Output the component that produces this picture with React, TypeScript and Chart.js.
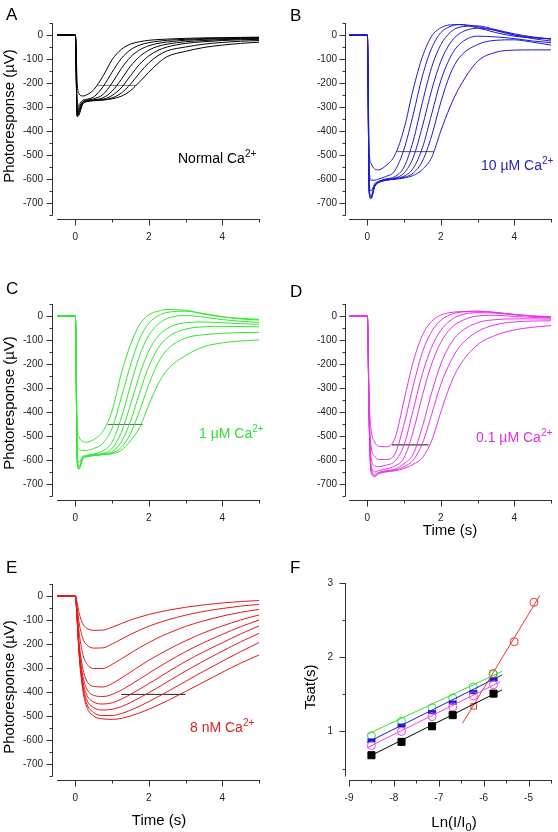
import React, { useEffect, useRef } from 'react';
import { Chart, registerables } from 'chart.js';

Chart.register(...registerables);

const FONT = '"Liberation Sans", Arial, Helvetica, sans-serif';

// ---------- shared axes ----------
const timeS = [-0.5, 0, 0.05, 0.1, 0.2, 0.3, 0.5, 0.75, 1, 1.25, 1.5, 1.75, 2, 2.25, 2.5, 3, 3.5, 4, 4.5, 5];
const timeTicks = [0, 2, 4];
const timeMinorTicks = [1, 3, 5];
const responseTicks = [0, -100, -200, -300, -400, -500, -600, -700];
const responseMinorTicks = [50, -50, -150, -250, -350, -450, -550, -650, -750];

// ---------- A: Normal Ca2+ (µV at timeS) ----------
const normalCaTraces = [
  [0, 0, -200, -245, -254, -250, -228, -172, -103, -60, -38, -28, -22, -19, -17, -14, -12, -11, -10, -9],
  [0, 0, -300, -290, -272, -268, -258, -216, -155, -98, -62, -42, -32, -26, -22, -18, -15, -13, -12, -11],
  [0, 0, -320, -300, -278, -272, -266, -248, -200, -140, -92, -62, -45, -35, -29, -22, -18, -16, -14, -13],
  [0, 0, -330, -310, -280, -274, -270, -262, -234, -185, -130, -90, -63, -47, -38, -28, -23, -19, -17, -15],
  [0, 0, -335, -318, -283, -276, -272, -268, -252, -220, -170, -122, -87, -64, -50, -35, -28, -23, -20, -18],
  [0, 0, -338, -325, -285, -277, -273, -270, -262, -242, -205, -158, -116, -86, -66, -50, -38, -31, -26, -23],
  [0, 0, -340, -333, -288, -278, -274, -271, -266, -255, -232, -195, -155, -118, -90, -68, -52, -42, -35, -30],
];
const normalCaTsatX = [0.61, 1.66];
const normalCaTsatLevel = -210;

// ---------- B: 10 µM Ca2+ ----------
const ca10uMTraces = [
  [0, 0, -480, -535, -558, -562, -545, -500, -390, -225, -90, -5, 30, 42, 43, 30, 10, -5, -12, -15],
  [0, 0, -560, -605, -605, -600, -590, -565, -475, -330, -170, -55, 10, 35, 44, 35, 18, 0, -10, -16],
  [0, 0, -620, -650, -620, -610, -600, -590, -550, -440, -280, -135, -40, 10, 32, 38, 22, 5, -8, -18],
  [0, 0, -640, -670, -625, -612, -602, -596, -575, -510, -380, -230, -110, -35, 5, 28, 20, 0, -15, -25],
  [0, 0, -650, -678, -628, -614, -604, -598, -588, -555, -470, -330, -190, -95, -40, -5, -8, -15, -25, -32],
  [0, 0, -655, -680, -630, -615, -605, -600, -593, -575, -525, -420, -280, -165, -95, -40, -22, -20, -30, -42],
  [0, 0, -660, -682, -632, -616, -606, -601, -596, -585, -560, -510, -400, -300, -220, -110, -72, -63, -62, -62],
];
const ca10uMTsatX = [0.81, 1.81];
const ca10uMTsatLevel = -486;

// ---------- C: 1 µM Ca2+ ----------
const ca1uMTraces = [
  [0, 0, -450, -505, -522, -526, -515, -480, -395, -240, -120, -35, 5, 20, 27, 24, 8, -4, -10, -14],
  [0, 0, -520, -555, -560, -560, -552, -530, -468, -340, -205, -95, -30, 0, 15, 20, 10, -3, -12, -17],
  [0, 0, -570, -610, -585, -580, -575, -562, -525, -425, -290, -165, -80, -35, -10, 2, -5, -15, -22, -27],
  [0, 0, -590, -625, -590, -583, -578, -572, -552, -485, -370, -245, -145, -85, -52, -28, -25, -28, -32, -35],
  [0, 0, -600, -632, -592, -585, -580, -575, -565, -525, -440, -320, -210, -135, -90, -55, -45, -43, -44, -45],
  [0, 0, -605, -636, -594, -586, -581, -577, -571, -548, -490, -395, -285, -195, -140, -92, -78, -72, -69, -68],
  [0, 0, -608, -638, -596, -587, -582, -578, -574, -560, -520, -465, -370, -285, -225, -165, -128, -112, -104, -100],
];
const ca1uMTsatX = [0.88, 1.84];
const ca1uMTsatLevel = -452;

// ---------- D: 0.1 µM Ca2+ ----------
const ca01uMTraces = [
  [0, 0, -350, -470, -525, -542, -545, -510, -350, -190, -80, -22, 4, 14, 18, 20, 14, 6, 0, -4],
  [0, 0, -400, -540, -585, -598, -598, -575, -450, -290, -150, -65, -18, 5, 15, 20, 15, 7, 0, -4],
  [0, 0, -430, -590, -625, -628, -622, -605, -537, -390, -240, -130, -60, -20, 2, 14, 12, 5, -1, -5],
  [0, 0, -440, -620, -650, -645, -638, -625, -590, -480, -330, -200, -110, -55, -25, 0, 3, -2, -6, -8],
  [0, 0, -445, -635, -660, -652, -645, -638, -615, -575, -460, -320, -200, -120, -72, -28, -15, -12, -12, -13],
  [0, 0, -448, -645, -665, -655, -648, -642, -628, -600, -530, -410, -285, -195, -130, -65, -36, -25, -21, -20],
  [0, 0, -450, -650, -670, -658, -650, -645, -635, -618, -590, -520, -400, -290, -210, -120, -80, -58, -47, -40],
];
const ca01uMTsatX = [0.67, 1.67];
const ca01uMTsatLevel = -537;

// ---------- E: 8 nM Ca2+ ----------
const ca8nMTraces = [
  [0, 0, -30, -70, -115, -133, -143, -142, -130, -115, -100, -88, -77, -68, -60, -47, -37, -29, -23, -19],
  [0, 0, -50, -110, -175, -202, -217, -216, -200, -180, -160, -142, -126, -112, -100, -80, -64, -52, -42, -35],
  [0, 0, -70, -150, -240, -280, -302, -302, -285, -262, -238, -215, -194, -174, -157, -127, -103, -84, -68, -56],
  [0, 0, -85, -190, -300, -350, -377, -379, -365, -342, -317, -292, -268, -246, -225, -187, -153, -125, -100, -79],
  [0, 0, -92, -210, -330, -383, -414, -419, -410, -392, -370, -346, -322, -298, -275, -232, -194, -160, -128, -100],
  [0, 0, -96, -220, -350, -408, -442, -450, -445, -430, -410, -388, -365, -342, -318, -273, -232, -195, -158, -125],
  [0, 0, -100, -228, -365, -428, -465, -475, -472, -461, -444, -424, -403, -381, -358, -313, -270, -230, -191, -156],
  [0, 0, -103, -235, -378, -445, -486, -498, -498, -490, -476, -459, -440, -420, -399, -356, -313, -272, -232, -194],
  [0, 0, -105, -240, -388, -458, -500, -512, -514, -510, -500, -487, -472, -455, -437, -398, -358, -318, -280, -246],
];
const ca8nMTsatX = [1.25, 3.0];
const ca8nMTsatLevel = -410;

// ---------- F: Tsat vs Ln(I/I0) ----------
const lnTicks = [-9, -8, -7, -6, -5];
const lnMinorTicks = [-8.5, -7.5, -6.5, -5.5, -4.5];
const tsatTicks = [1, 2, 3];
const tsatMinorTicks = [0.5, 1.5, 2.5];

const normalLn = [-8.5, -7.83, -7.15, -6.69, -5.78];
const normalTsat = [0.68, 0.86, 1.07, 1.22, 1.51];
const normalFitLn = [-8.56, -5.59];
const normalFitTsat = [0.66, 1.56];

const sixLn = [-8.5, -7.83, -7.15, -6.69, -6.23, -5.78];
const ca1uMTsat = [0.94, 1.14, 1.32, 1.45, 1.6, 1.77];
const ca1uMFitLn = [-8.6, -5.59];
const ca1uMFitTsat = [0.96, 1.81];
const ca10uMTsat = [0.88, 1.08, 1.26, 1.39, 1.53, 1.7];
const ca10uMFitLn = [-8.6, -5.59];
const ca10uMFitTsat = [0.85, 1.76];
const ca01uMTsat = [0.81, 1.0, 1.2, 1.33, 1.48, 1.63];
const ca01uMFitLn = [-8.6, -5.63];
const ca01uMFitTsat = [0.78, 1.67];

const ca8nMLn = [-6.22, -5.79, -5.32, -4.88];
const ca8nMTsat = [1.34, 1.78, 2.21, 2.74];
const ca8nMFitLn = [-6.47, -4.75];
const ca8nMFitTsat = [1.11, 2.83];

// ---------- layout boxes ----------
type Box = { cx: number; cy: number; w: number; h: number; L: number; T: number; R: number; B: number; yGap: number; yPad: number };
const boxA: Box = { cx: 0, cy: 0, w: 279, h: 280, L: 57, T: 23, R: 259, B: 215, yGap: 5, yPad: 14 };
const boxB: Box = { cx: 279, cy: 0, w: 279, h: 280, L: 349, T: 23, R: 551, B: 215, yGap: 4.5, yPad: 12 };
const boxC: Box = { cx: 0, cy: 280, w: 279, h: 280, L: 57, T: 304, R: 259, B: 496, yGap: 5, yPad: 14 };
const boxD: Box = { cx: 279, cy: 280, w: 279, h: 280, L: 349, T: 304, R: 551, B: 496, yGap: 4.5, yPad: 12 };
const boxE: Box = { cx: 0, cy: 560, w: 279, h: 272, L: 57, T: 584, R: 259, B: 776, yGap: 5, yPad: 14 };
const boxF: Box = { cx: 279, cy: 560, w: 279, h: 272, L: 349, T: 583, R: 551, B: 776, yGap: 4, yPad: 16 };

const AXIS_COLOR = '#333';

const originAxes = {
  id: 'originAxes',
  afterDraw(chart: any, _args: any, opts: any) {
    const { ctx, chartArea } = chart;
    const xs = chart.scales.x;
    const ys = chart.scales.y;
    ctx.save();
    ctx.strokeStyle = AXIS_COLOR;
    ctx.lineWidth = 1;
    const ax = Math.round(chartArea.left - opts.yGap) + 0.5;
    const ay = Math.round(chartArea.bottom + 4) + 0.5;
    ctx.beginPath();
    ctx.moveTo(ax, Math.round(chartArea.top));
    ctx.lineTo(ax, Math.round(chartArea.bottom) + 0.5);
    ctx.moveTo(Math.round(chartArea.left), ay);
    ctx.lineTo(Math.round(chartArea.right) + 1, ay);
    const yT = (vals: number[], len: number) => {
      for (const v of vals) {
        const p = Math.round(ys.getPixelForValue(v)) + 0.5;
        ctx.moveTo(ax, p);
        ctx.lineTo(ax - len, p);
      }
    };
    const xT = (vals: number[], len: number) => {
      for (const v of vals) {
        const p = Math.round(xs.getPixelForValue(v)) + 0.5;
        ctx.moveTo(p, ay);
        ctx.lineTo(p, ay + len);
      }
    };
    yT(opts.yMajor, 6);
    yT(opts.yMinor, 3);
    xT(opts.xMajor, 6);
    xT(opts.xMinor, 3);
    ctx.stroke();
    ctx.restore();
  },
};

type AxSpec = {
  xMin: number; xMax: number; yMin: number; yMax: number;
  xTicks: number[]; xMinor: number[]; yTicks: number[]; yMinor: number[];
};

function baseConfig(datasets: any[], box: Box, ax: AxSpec) {
  const tickFont = { family: FONT, size: 10 };
  return {
    type: 'line',
    data: { datasets },
    plugins: [originAxes],
    options: {
      responsive: false,
      animation: false,
      events: [],
      layout: { padding: { left: 0, top: box.T - box.cy, right: box.cx + box.w - box.R, bottom: 0 } },
      plugins: {
        legend: { display: false },
        tooltip: { enabled: false },
        originAxes: { yGap: box.yGap, xMajor: ax.xTicks, xMinor: ax.xMinor, yMajor: ax.yTicks, yMinor: ax.yMinor },
      },
      scales: {
        x: {
          type: 'linear',
          min: ax.xMin,
          max: ax.xMax,
          grid: { display: false, drawTicks: false },
          border: { display: false },
          ticks: { padding: 16, font: tickFont, color: '#222', autoSkip: false, maxRotation: 0, callback: (v: any) => String(v) },
          afterBuildTicks: (s: any) => { s.ticks = ax.xTicks.map((v) => ({ value: v })); },
          afterFit: (s: any) => { s.height = box.cy + box.h - box.B; },
        },
        y: {
          type: 'linear',
          min: ax.yMin,
          max: ax.yMax,
          grid: { display: false, drawTicks: false },
          border: { display: false },
          ticks: { padding: box.yPad, font: tickFont, color: '#222', autoSkip: false, callback: (v: any) => String(v) },
          afterBuildTicks: (s: any) => { s.ticks = ax.yTicks.map((v) => ({ value: v })); },
          afterFit: (s: any) => { s.width = box.L - box.cx; },
        },
      },
    },
  };
}

function traceConfig(traces: number[][], color: string, tsatX: number[], tsatLevel: number, tsatColor: string, box: Box) {
  const datasets: any[] = traces.map((vals) => ({
    data: timeS.map((t, i) => ({ x: t, y: vals[i] })),
    borderColor: color,
    borderWidth: 1,
    pointRadius: 0,
    cubicInterpolationMode: 'monotone',
    fill: false,
  }));
  datasets.push({
    data: tsatX.map((x) => ({ x, y: tsatLevel })),
    borderColor: tsatColor,
    borderWidth: 1,
    pointRadius: 0,
    fill: false,
  });
  return baseConfig(datasets, box, {
    xMin: -0.5, xMax: 5, yMin: -750, yMax: 50,
    xTicks: timeTicks, xMinor: timeMinorTicks, yTicks: responseTicks, yMinor: responseMinorTicks,
  });
}

function makeBarMarker(color: string) {
  const c = document.createElement('canvas');
  c.width = 10;
  c.height = 6;
  const g = c.getContext('2d')!;
  g.fillStyle = color;
  g.fillRect(1, 1, 8, 4);
  return c;
}

function tsatConfig(box: Box) {
  const pts = (xs: number[], ys: number[]) => xs.map((x, i) => ({ x, y: ys[i] }));
  const fit = (xs: number[], ys: number[], color: string) => ({
    data: pts(xs, ys), borderColor: color, borderWidth: 1, pointRadius: 0, fill: false,
  });
  const marks = (xs: number[], ys: number[], color: string, style: any, radius: number, filled: boolean) => ({
    data: pts(xs, ys),
    showLine: false,
    borderColor: color,
    backgroundColor: filled ? color : 'rgba(0,0,0,0)',
    pointBorderColor: color,
    pointBackgroundColor: filled ? color : 'rgba(0,0,0,0)',
    pointStyle: style,
    pointRadius: radius,
    pointBorderWidth: 1,
  });
  const blue = '#1a1acc';
  const datasets = [
    fit(normalFitLn, normalFitTsat, '#000'),
    fit(ca01uMFitLn, ca01uMFitTsat, '#ee44ee'),
    fit(ca10uMFitLn, ca10uMFitTsat, blue),
    fit(ca1uMFitLn, ca1uMFitTsat, '#33dd33'),
    fit(ca8nMFitLn, ca8nMFitTsat, '#ee3333'),
    marks(normalLn, normalTsat, '#000', 'rect', 5, true),
    marks(sixLn, ca01uMTsat, '#ee44ee', 'circle', 4, false),
    marks(sixLn, ca10uMTsat, blue, makeBarMarker(blue), 4, true),
    marks(sixLn, ca1uMTsat, '#33dd33', 'circle', 4, false),
    marks(ca8nMLn, ca8nMTsat, '#ee3333', ['rect', 'circle', 'circle', 'circle'], 4, false),
  ];
  return baseConfig(datasets, box, {
    xMin: -9, xMax: -4.5, yMin: 0.4, yMax: 3,
    xTicks: lnTicks, xMinor: lnMinorTicks, yTicks: tsatTicks, yMinor: tsatMinorTicks,
  });
}

function ChartCanvas({ box, make }: { box: Box; make: () => any }) {
  const ref = useRef<HTMLCanvasElement | null>(null);
  useEffect(() => {
    if (!ref.current) return;
    const chart = new Chart(ref.current, make());
    return () => chart.destroy();
  }, []);
  return (
    <canvas
      ref={ref}
      width={box.w}
      height={box.h}
      style={{ position: 'absolute', left: box.cx, top: box.cy, width: box.w, height: box.h }}
    />
  );
}

function Txt({ left, baseline, size, color = '#000', children }: any) {
  return (
    <div
      style={{
        position: 'absolute', left, top: baseline - 0.85 * size, fontSize: size, lineHeight: `${size}px`,
        color, whiteSpace: 'nowrap', fontFamily: FONT,
      }}
    >
      {children}
    </div>
  );
}

function VTxt({ cx, cy, size, children }: any) {
  return (
    <div
      style={{
        position: 'absolute', left: cx, top: cy, fontSize: size, lineHeight: `${Math.round(size * 1.2)}px`,
        whiteSpace: 'nowrap', fontFamily: FONT, color: '#000',
        transform: 'translate(-50%, -50%) rotate(-90deg)',
      }}
    >
      {children}
    </div>
  );
}

function CTxt({ cx, cy, size, children }: any) {
  return (
    <div
      style={{
        position: 'absolute', left: cx, top: cy, fontSize: size, lineHeight: `${Math.round(size * 1.2)}px`,
        whiteSpace: 'nowrap', fontFamily: FONT, color: '#000', transform: 'translate(-50%, -50%)',
      }}
    >
      {children}
    </div>
  );
}

const Sup = ({ children }: any) => (
  <span style={{ fontSize: 10, position: 'relative', top: -6, verticalAlign: 'baseline' }}>{children}</span>
);

export default function App() {
  return (
    <div style={{ position: 'absolute', left: 0, top: 0, width: 558, height: 832, background: '#fff', fontFamily: FONT, overflow: 'hidden' }}>
      <ChartCanvas box={boxA} make={() => traceConfig(normalCaTraces, '#000', normalCaTsatX, normalCaTsatLevel, '#777', boxA)} />
      <ChartCanvas box={boxB} make={() => traceConfig(ca10uMTraces, '#1a1ad0', ca10uMTsatX, ca10uMTsatLevel, '#555', boxB)} />
      <ChartCanvas box={boxC} make={() => traceConfig(ca1uMTraces, '#33e633', ca1uMTsatX, ca1uMTsatLevel, '#666', boxC)} />
      <ChartCanvas box={boxD} make={() => traceConfig(ca01uMTraces, '#e633e6', ca01uMTsatX, ca01uMTsatLevel, '#111', boxD)} />
      <ChartCanvas box={boxE} make={() => traceConfig(ca8nMTraces, '#e01b1b', ca8nMTsatX, ca8nMTsatLevel, '#222', boxE)} />
      <ChartCanvas box={boxF} make={() => tsatConfig(boxF)} />

      <Txt left={6} baseline={20} size={17}>A</Txt>
      <Txt left={290} baseline={21} size={17}>B</Txt>
      <Txt left={6} baseline={294} size={17}>C</Txt>
      <Txt left={290} baseline={297} size={17}>D</Txt>
      <Txt left={6} baseline={573} size={17}>E</Txt>
      <Txt left={290} baseline={573} size={17}>F</Txt>

      <Txt left={178} baseline={163} size={14}>Normal Ca<Sup>2+</Sup></Txt>
      <Txt left={481} baseline={170} size={14} color="#2424b8">10 µM Ca<Sup>2+</Sup></Txt>
      <Txt left={199} baseline={438} size={14} color="#33dd33">1 µM Ca<Sup>2+</Sup></Txt>
      <Txt left={476} baseline={442} size={14} color="#e030e0">0.1 µM Ca<Sup>2+</Sup></Txt>
      <Txt left={190} baseline={732} size={14} color="#dd2222">8 nM Ca<Sup>2+</Sup></Txt>

      <VTxt cx={9} cy={116} size={15}>Photoresponse (µV)</VTxt>
      <VTxt cx={9} cy={403} size={15}>Photoresponse (µV)</VTxt>
      <VTxt cx={9} cy={687} size={15}>Photoresponse (µV)</VTxt>
      <CTxt cx={450} cy={530} size={15}>Time (s)</CTxt>
      <CTxt cx={159} cy={820} size={15}>Time (s)</CTxt>
      <CTxt cx={454} cy={822} size={15}>
        Ln(I/I<span style={{ fontSize: 11, position: 'relative', top: 4 }}>0</span>)
      </CTxt>
      <VTxt cx={310} cy={687} size={15}>Tsat(s)</VTxt>
    </div>
  );
}
